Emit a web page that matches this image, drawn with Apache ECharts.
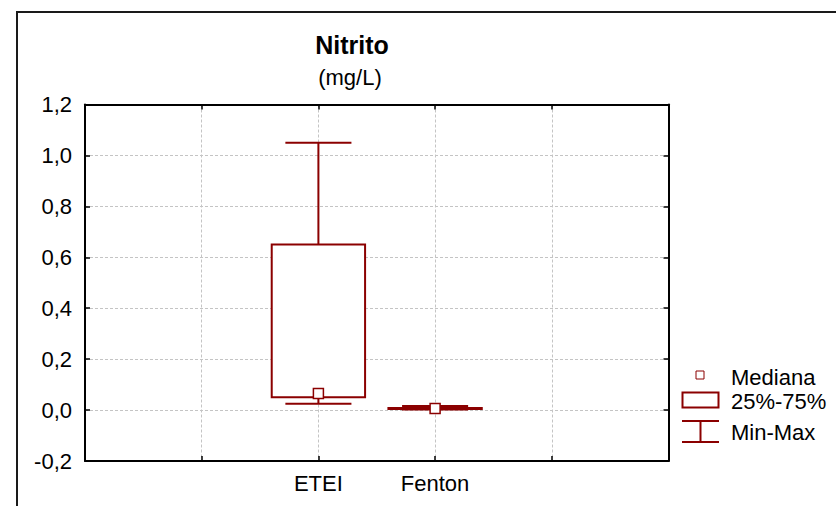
<!DOCTYPE html>
<html><head><meta charset="utf-8">
<script src="https://cdn.jsdelivr.net/npm/echarts@6/dist/echarts.min.js"></script>
<style>html,body{margin:0;padding:0;background:#fff}#c{width:836px;height:506px}</style>
</head><body><div id="c"></div>
<script>
// ---- data ----
const categories = ['', '', 'ETEI', 'Fenton', '', ''];
const groups = ['ETEI', 'Fenton'];
const minValues = [0.025, 0.002];
const q1Values = [0.05, 0.004];
const medianValues = [0.065, 0.006];
const q3Values = [0.65, 0.008];
const maxValues = [1.05, 0.016];
const yTicks = [-0.2, 0.0, 0.2, 0.4, 0.6, 0.8, 1.0, 1.2];
const titleText = 'Nitrito';
const subtitleText = '(mg/L)';
const legendLabels = ['Mediana', '25%-75%', 'Min-Max'];

// ---- styles ----
const C = '#8b0000';
const FONT = '"Liberation Sans", Arial, Helvetica, sans-serif';
const FS = 22;

const seriesData = groups.map((g, i) => [categories.indexOf(g), minValues[i], q1Values[i], medianValues[i], q3Values[i], maxValues[i]]);

function renderItem(params, api) {
  const x = api.value(0);
  const pMin = api.coord([x, api.value(1)]);
  const pQ1 = api.coord([x, api.value(2)]);
  const pMed = api.coord([x, api.value(3)]);
  const pQ3 = api.coord([x, api.value(4)]);
  const pMax = api.coord([x, api.value(5)]);
  const band = api.size([1, 0])[0];
  const hb = band * 0.4;
  const hc = band * 0.283;
  const cx = pMin[0];
  const ls = {stroke: C, lineWidth: 2};
  return {
    type: 'group',
    children: [
      {type: 'line', shape: {x1: cx, y1: pQ3[1], x2: cx, y2: pMax[1]}, style: ls},
      {type: 'line', shape: {x1: cx, y1: pMin[1], x2: cx, y2: pQ1[1]}, style: ls},
      {type: 'rect', shape: {x: cx - hb, y: pQ3[1], width: 2 * hb, height: Math.max(pQ1[1] - pQ3[1], 0.5)}, style: {fill: '#fff', stroke: C, lineWidth: 2}},
      {type: 'line', shape: {x1: cx - hc, y1: pMax[1], x2: cx + hc, y2: pMax[1]}, style: ls},
      {type: 'line', shape: {x1: cx - hc, y1: pMin[1], x2: cx + hc, y2: pMin[1]}, style: ls},
      {type: 'rect', shape: {x: cx - 5, y: pMed[1] - 5, width: 10, height: 10}, style: {fill: '#fff', stroke: C, lineWidth: 1.5}}
    ]
  };
}

const yFmt = v => v.toFixed(1).replace('.', ',');
const splitStyle = {show: true, lineStyle: {color: '#c4c4c4', type: [3, 2], width: 1}};
const tickStyle = {show: true, inside: true, length: 5, lineStyle: {color: '#000', width: 1.5}};
const axisLineStyle = {show: true, onZero: false, lineStyle: {color: '#000', width: 2}};

const chart = echarts.init(document.getElementById('c'), null, {renderer: 'svg'});
chart.setOption({
  animation: false,
  backgroundColor: '#fff',
  grid: {left: 85, right: 167.5, top: 104.5, bottom: 45},
  xAxis: [
    {type: 'category', data: categories, boundaryGap: false, position: 'bottom',
     axisLine: axisLineStyle, axisTick: Object.assign({interval: 0}, tickStyle),
     axisLabel: {interval: 0, margin: 11, fontSize: FS, color: '#000', fontFamily: FONT},
     splitLine: Object.assign({interval: 0}, splitStyle)},
    {type: 'category', data: categories, boundaryGap: false, position: 'top',
     axisLine: axisLineStyle, axisTick: Object.assign({interval: 0}, tickStyle),
     axisLabel: {show: false}, splitLine: {show: false}}
  ],
  yAxis: [
    {type: 'value', min: yTicks[0], max: yTicks[yTicks.length - 1], interval: 0.2, position: 'left',
     axisLine: axisLineStyle, axisTick: tickStyle,
     axisLabel: {formatter: yFmt, margin: 13, fontSize: FS, color: '#000', fontFamily: FONT},
     splitLine: splitStyle},
    {type: 'value', min: yTicks[0], max: yTicks[yTicks.length - 1], interval: 0.2, position: 'right',
     axisLine: axisLineStyle, axisTick: tickStyle, axisLabel: {show: false}, splitLine: {show: false}}
  ],
  series: [{
    type: 'custom', renderItem: renderItem, data: seriesData,
    encode: {x: 0, y: [1, 2, 3, 4, 5]}, xAxisIndex: 0, yAxisIndex: 0, z: 5
  }],
  graphic: [
    {type: 'rect', shape: {x: 17, y: 12, width: 900, height: 600}, style: {fill: 'none', stroke: '#1a1a1a', lineWidth: 2}, z: 1},
    {type: 'text', x: 352, y: 45, style: {text: titleText, fontSize: 25, fontWeight: 'bold', fontFamily: FONT, fill: '#000', align: 'center', verticalAlign: 'middle'}},
    {type: 'text', x: 350, y: 77, style: {text: subtitleText, fontSize: FS, fontFamily: FONT, fill: '#000', align: 'center', verticalAlign: 'middle'}},
    {type: 'rect', shape: {x: 696, y: 371, width: 8, height: 8}, style: {fill: '#fff', stroke: C, lineWidth: 1}},
    {type: 'rect', shape: {x: 682.5, y: 392.5, width: 36, height: 15}, style: {fill: '#fff', stroke: C, lineWidth: 2}},
    {type: 'line', shape: {x1: 682, y1: 421, x2: 719, y2: 421}, style: {stroke: C, lineWidth: 2}},
    {type: 'line', shape: {x1: 682, y1: 442, x2: 719, y2: 442}, style: {stroke: C, lineWidth: 2}},
    {type: 'line', shape: {x1: 700.5, y1: 421, x2: 700.5, y2: 442}, style: {stroke: C, lineWidth: 2}},
    {type: 'text', x: 731, y: 377, style: {text: legendLabels[0], fontSize: FS, fontFamily: FONT, fill: '#000', align: 'left', verticalAlign: 'middle'}},
    {type: 'text', x: 731, y: 401, style: {text: legendLabels[1], fontSize: FS, fontFamily: FONT, fill: '#000', align: 'left', verticalAlign: 'middle'}},
    {type: 'text', x: 731, y: 432, style: {text: legendLabels[2], fontSize: FS, fontFamily: FONT, fill: '#000', align: 'left', verticalAlign: 'middle'}}
  ]
});
</script>
</body></html>
